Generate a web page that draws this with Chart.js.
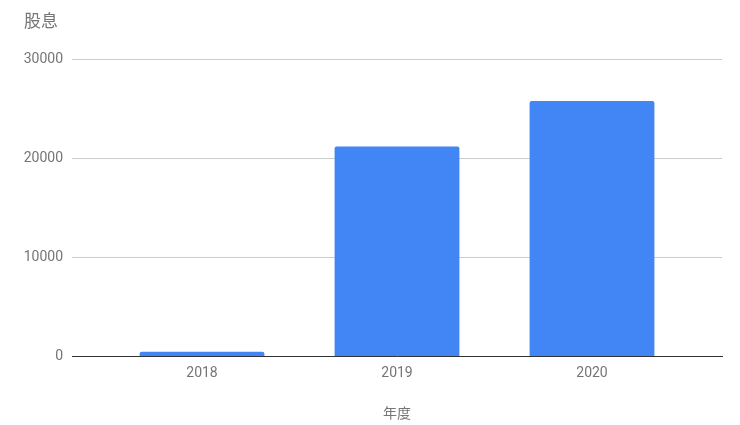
<!DOCTYPE html>
<html>
<head>
<meta charset="utf-8">
<script src="https://cdn.jsdelivr.net/npm/chart.js@4/dist/chart.umd.min.js"></script>
<style>
  html, body { margin: 0; padding: 0; background: #fff; }
  #wrap { width: 740px; height: 425px; position: relative; }
</style>
</head>
<body>
<div id="wrap"><canvas id="dividendChart"></canvas></div>
<script>
// datos del gráfico
const years = ['2018', '2019', '2020'];
const dividends = [480, 21200, 25800];
const yTicks = [0, 10000, 20000, 30000];

const fontFamily = "Roboto, 'Noto Sans CJK SC', sans-serif";
const grey = '#757575';
// margen extra (en categorías) a cada lado del eje x, como en el original
const xMargin = 0.1667;

function inicializarGrafico() {
    const canvas = document.getElementById('dividendChart');
    if (!canvas) return;

    new Chart(canvas, {
        type: 'bar',
        data: {
            labels: years,
            datasets: [{
                label: '股息',
                data: dividends,
                backgroundColor: '#4285F4',
                borderRadius: { topLeft: 2, topRight: 2 },
                borderSkipped: 'bottom',
                categoryPercentage: 1,
                barPercentage: 0.64
            }]
        },
        options: {
            responsive: true,
            maintainAspectRatio: false,
            animation: false,
            layout: { padding: { left: 24, right: 18, top: 9, bottom: 2 } },
            plugins: {
                legend: { display: false },
                tooltip: { enabled: false },
                title: {
                    display: true,
                    text: '股息',
                    align: 'start',
                    color: grey,
                    font: { family: fontFamily, size: 17, weight: 'normal' },
                    padding: { top: 4, bottom: 26 }
                }
            },
            scales: {
                x: {
                    afterBuildTicks: axis => {
                        // ensanchamos el rango para dejar espacio a los lados
                        axis._startValue = -0.5 - xMargin;
                        axis._valueRange = years.length + 2 * xMargin;
                    },
                    grid: { display: false, drawTicks: false },
                    border: { display: true, color: '#333333', width: 1 },
                    ticks: {
                        color: grey,
                        font: { family: fontFamily, size: 14 },
                        padding: 9
                    },
                    title: {
                        display: true,
                        text: '年度',
                        color: grey,
                        font: { family: fontFamily, size: 14 },
                        padding: { top: 15, bottom: 0 }
                    }
                },
                y: {
                    min: 0,
                    max: 30000,
                    afterBuildTicks: axis => {
                        axis.ticks = yTicks.map(v => ({ value: v }));
                    },
                    afterFit: axis => {
                        axis.width = 48;
                    },
                    grid: { color: '#cccccc', drawTicks: false },
                    border: { display: false },
                    ticks: {
                        color: grey,
                        font: { family: fontFamily, size: 14 },
                        padding: 9,
                        callback: v => String(v)
                    }
                }
            }
        }
    });
}

document.addEventListener('DOMContentLoaded', inicializarGrafico);
</script>
</body>
</html>
